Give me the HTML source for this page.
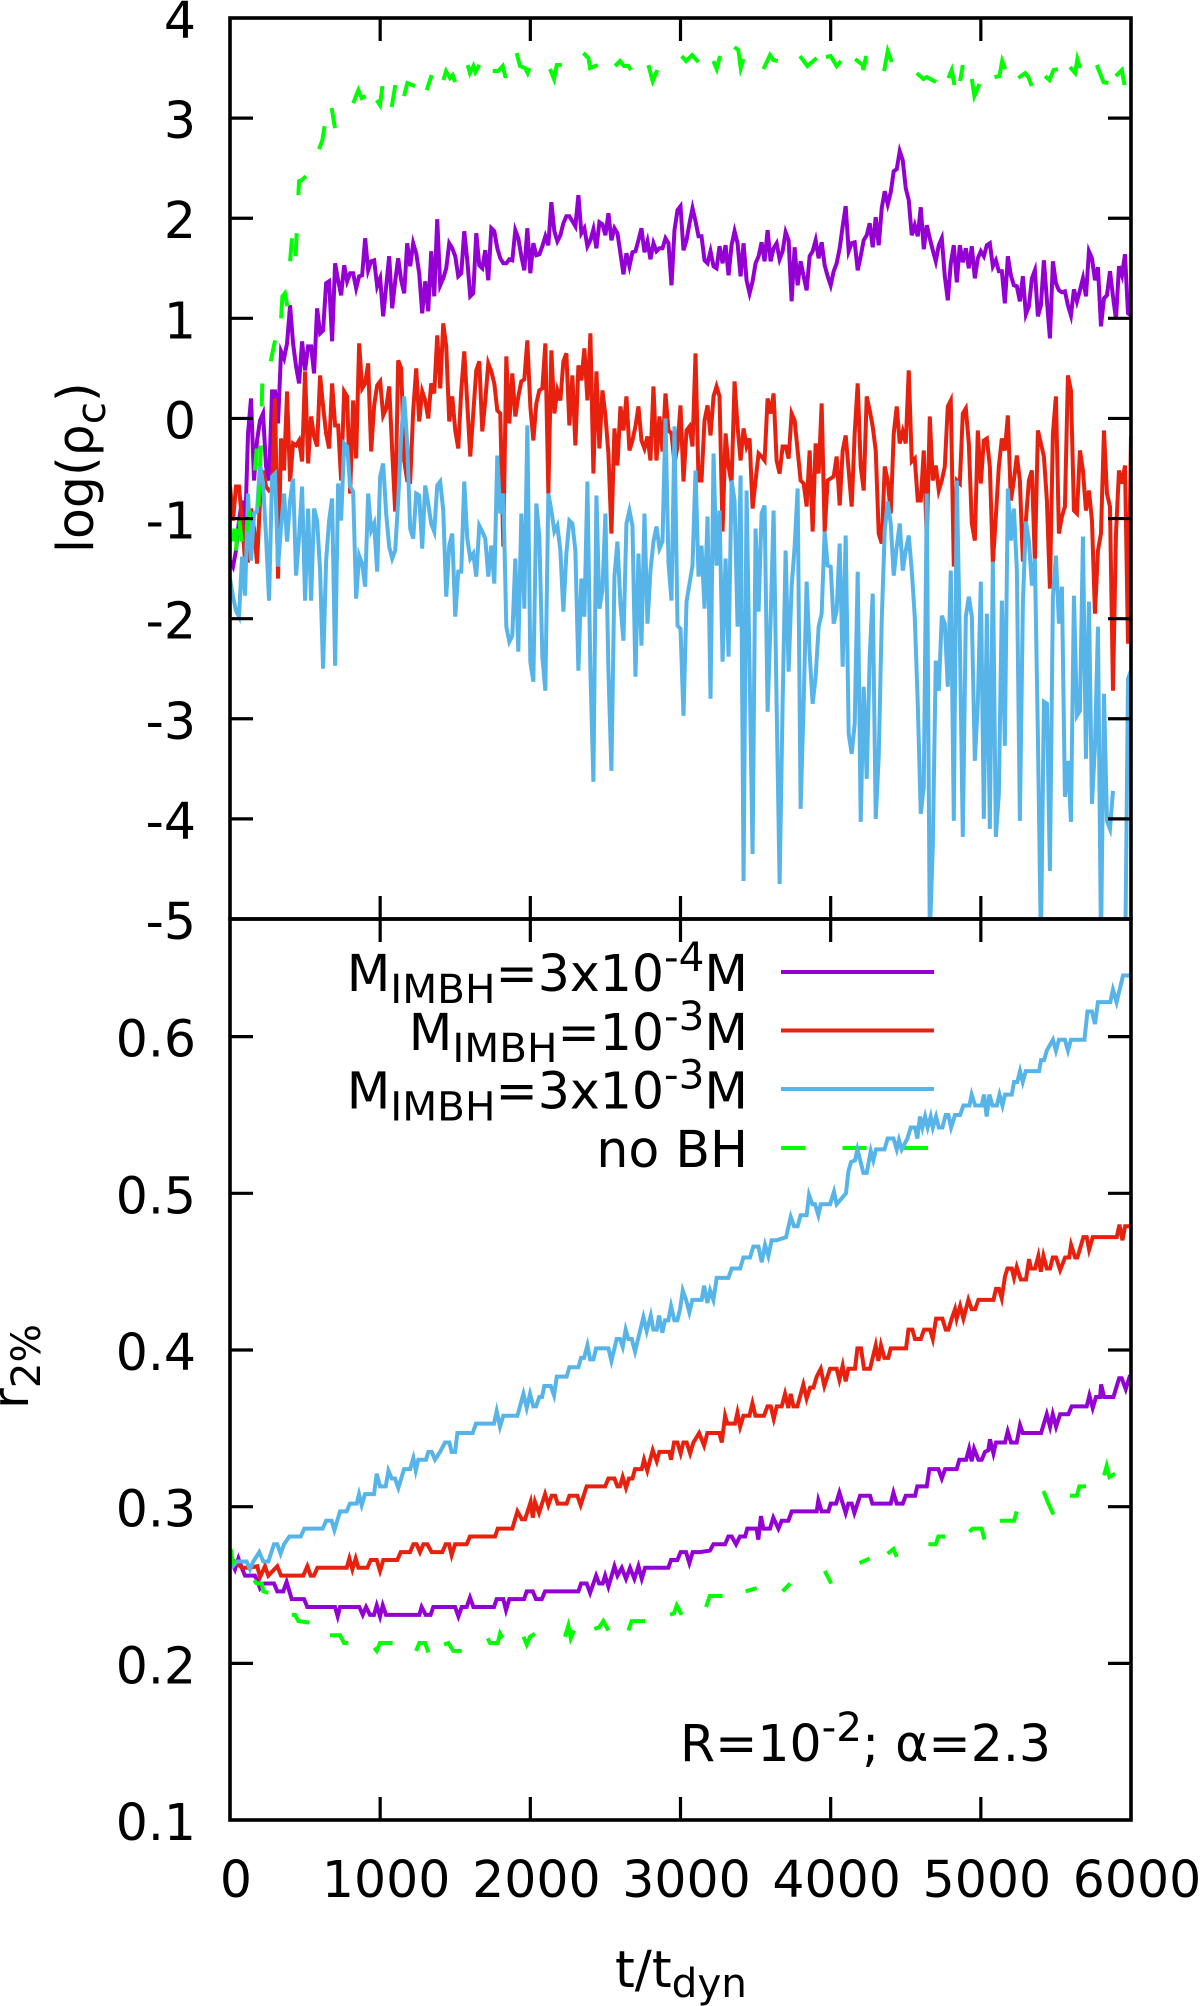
<!DOCTYPE html>
<html lang="en">
<head>
<meta charset="utf-8">
<title>Central density and 2% Lagrangian radius vs time</title>
<style>
html,body{margin:0;padding:0;background:#fff;}
svg{display:block;font-family:"DejaVu Sans","Liberation Sans",sans-serif;}
text{fill:#000;font-size:50.5px;}
.sm{font-size:40.5px;}
</style>
</head>
<body>
<svg id="chart" width="1200" height="2006" viewBox="0 0 1200 2006" xmlns="http://www.w3.org/2000/svg">
<defs>
<clipPath id="clip-top"><rect x="230" y="18" width="901" height="901"/></clipPath>
<clipPath id="clip-bottom"><rect x="230" y="919" width="901" height="901"/></clipPath>
</defs>
<rect x="0" y="0" width="1200" height="2006" fill="#fff"/>
<g id="legend-lines">
<line x1="781" x2="934" y1="972" y2="972" stroke="#9400d3" stroke-width="4"/>
<line x1="781" x2="934" y1="1030.5" y2="1030.5" stroke="#e7210d" stroke-width="4"/>
<line x1="781" x2="934" y1="1089" y2="1089" stroke="#56b4e9" stroke-width="4"/>
<line x1="781" x2="934" y1="1148" y2="1148" stroke="#00ff00" stroke-width="4" stroke-dasharray="24 37.5"/>
<text x="748" y="991" text-anchor="end">M<tspan class="sm" dy="12">IMBH</tspan><tspan dy="-12">=3x10</tspan><tspan class="sm" dy="-20">-4</tspan><tspan dy="20">M</tspan></text>
<text x="748" y="1050" text-anchor="end">M<tspan class="sm" dy="12">IMBH</tspan><tspan dy="-12">=10</tspan><tspan class="sm" dy="-20">-3</tspan><tspan dy="20">M</tspan></text>
<text x="748" y="1108.5" text-anchor="end">M<tspan class="sm" dy="12">IMBH</tspan><tspan dy="-12">=3x10</tspan><tspan class="sm" dy="-20">-3</tspan><tspan dy="20">M</tspan></text>
<text x="748" y="1167" text-anchor="end">no BH</text>
</g>
<g id="series-top" clip-path="url(#clip-top)"></g>
<g id="series-bottom" clip-path="url(#clip-bottom)"></g>
<g id="axes"></g>
<text transform="translate(93,553) rotate(-90)">log(ρ<tspan class="sm" dy="12">c</tspan><tspan dy="-12">)</tspan></text>
<text transform="translate(28,1409) rotate(-90)">r<tspan class="sm" dy="12">2%</tspan></text>
<text x="615" y="1987">t/t<tspan class="sm" dy="10">dyn</tspan></text>
<text x="680" y="1761">R=10<tspan class="sm" dy="-20">-2</tspan><tspan dy="20">; α=2.3</tspan></text>
</svg>
<script>
const sampleStep = 20;
const xTickValues = [0,1000,2000,3000,4000,5000,6000];
const yTickValuesTop = [4,3,2,1,0,-1,-2,-3,-4,-5];
const yTickValuesBottom = [0.6,0.5,0.4,0.3,0.2,0.1];
const yTickLabelsBottom = ["0.6","0.5","0.4","0.3","0.2","0.1"];

const densityImbh3em4 = [-1.42,-1.48,-1.32,-1.02,-.82,-1.15,-.15,.2,-.62,-.22,-.02,.05,-.48,-.62,.27,.27,-.05,.67,.6,.75,1.13,.75,.52,.35,.77,.48,.72,.72,.45,1.1,.85,.88,1.35,1.37,.77,1.55,1.38,1.23,1.53,1.37,1.45,1.45,1.3,1.42,1.43,1.8,1.48,1.57,1.58,1.32,1.4,1.02,1.32,1.62,1.1,1.37,1.6,1.38,1.25,1.75,1.52,1.75,1.65,1.45,1.05,1.37,1.07,1.67,1.22,1.99,1.33,1.4,1.5,1.75,1.7,1.62,1.42,1.45,1.87,1.58,1.22,1.25,1.85,1.53,1.5,1.68,1.38,1.9,1.87,1.7,1.6,1.55,1.55,1.59,1.58,1.88,1.8,1.62,1.48,1.9,1.45,1.75,1.63,1.64,1.72,1.82,1.73,2.16,1.87,1.77,1.83,1.95,2.02,2.02,1.97,1.92,2.23,1.85,1.9,1.72,1.78,1.89,1.7,1.96,1.94,1.83,2.05,1.78,1.9,1.85,1.65,1.44,1.65,1.52,1.66,1.67,1.78,1.9,1.66,1.77,1.59,1.75,1.67,1.7,1.7,1.8,1.75,1.33,1.88,2.08,2.12,1.68,1.78,1.95,2.1,1.97,1.82,
1.82,1.58,1.55,1.67,1.52,1.5,1.72,1.55,1.73,1.43,1.73,1.87,1.75,1.42,1.75,1.38,1.25,1.37,1.55,1.62,1.76,1.57,1.88,1.57,1.7,1.75,1.59,1.67,1.86,1.78,1.17,1.71,1.33,1.57,1.42,1.28,1.62,1.67,1.78,1.6,1.76,1.53,1.42,1.33,1.47,1.55,1.7,1.92,2.12,1.67,1.75,1.76,1.48,1.62,1.78,1.83,1.95,1.71,2.01,1.73,2.1,2.27,2.14,2.26,2.47,2.49,2.67,2.58,2.3,2.18,1.83,1.93,1.82,2.11,1.69,1.93,1.8,1.68,1.57,1.73,1.8,1.42,1.18,1.55,1.73,1.36,1.73,1.56,1.7,1.5,1.72,1.4,1.6,1.67,1.62,1.73,1.75,1.52,1.58,1.47,1.47,1.15,1.62,1.43,1.33,1.32,1.17,1.42,1.04,1.12,1.4,1.48,1.02,1.13,1.58,1.18,.8,1.57,1.35,1.28,1.26,1.27,1.13,1.03,1.29,1.17,1.28,1.4,1.22,1.67,1.6,1.38,1.51,.92,1.2,1.23,1.47,1.22,.99,1.52,1.43,1.64,1.05,1.03];

const densityImbh1em3 = [-.67,-1.02,-.68,-.68,-1.02,-1.42,-1.42,-.9,-1.1,-1.45,-.82,-.52,-.68,-.72,-.7,.2,-1.6,-.2,-.52,.27,-.63,-.25,-.27,-.22,-.43,.47,-.45,.02,-.18,-.28,.43,.12,-.15,-.3,.35,-.07,-.07,-.62,.27,.22,-.75,.18,-.4,.75,.3,.35,.55,-.33,.13,.33,.37,.03,.1,.32,-.32,-.93,.58,.5,-.42,-.62,-.63,.08,.5,-.03,.27,.18,0,.35,.25,.83,.3,.95,.72,-.03,.22,-.12,-.3,.28,.67,.15,-.38,.05,.48,.57,-.13,.18,.55,.47,.35,.08,.05,-1.28,.62,-.05,.45,.02,.22,.37,.39,.78,.12,-.22,.15,.28,.3,.75,-.75,.68,.05,.28,.18,.57,.65,-.07,.43,-.27,.53,.38,.7,.18,.85,-.55,.47,-.3,.28,.03,-.35,-1.15,-.1,-.47,.12,-.12,.22,-.32,-.22,-.08,.12,-.22,-.3,-.18,-.42,.32,-.42,.02,-.33,.25,-.12,-.15,-.45,-.28,.13,-.63,-.12,-.08,-.28,.65,-.62,
-.62,-.02,.13,-.17,.22,.32,.22,-1.13,-.15,-.48,-.65,.37,-.08,-.42,-.1,-.28,-.2,-.9,-.62,-.35,-.38,-.42,.2,.05,.25,-.42,-.55,-.28,-.28,-.4,.05,-.02,-.32,-.62,-.65,-.88,-.32,-1.13,-.25,-.55,.15,-1.13,-.62,-.6,-.58,-.38,-.87,-.32,-.17,-.52,-.88,-.15,.35,-.48,-.72,.22,.08,-.08,-.32,-1.15,-1.25,-.48,-.62,-.95,-.15,.12,-.25,-.13,-.25,.48,-.43,-.4,-.82,-.82,-.32,-1.22,.02,-.62,-.47,-.72,-.62,-.48,.12,.18,-1.48,-.62,-.65,.05,.1,-.25,-1.05,-1.22,-.12,-.65,-.22,-.2,-.48,-1.45,-.98,-.48,-.2,-.32,.03,-.82,-.62,-.37,-.62,-1.43,-1.02,-.62,-.52,-1.42,-.12,-.25,-.38,-.82,-1.7,-.15,.22,-1.15,-.98,-.88,.43,.28,-.92,-.95,-.32,-.52,-.92,-.72,-1.02,-1.95,-1.32,-1.15,-.12,-.75,-.88,-2.72,-1.15,-.52,-.65,-.47,-2.25,-.18];

const densityImbh3em3 = [-1.6,-1.78,-1.92,-1.98,-1.38,-1.77,-.75,-1.42,-.95,-.93,-.45,-.65,-1.18,-1.82,-.58,-.55,-1.48,-1.08,-.75,-1.23,-.82,-.6,-1.57,-1.18,-.68,-1.82,-.9,-1.82,-.9,-1.02,-1.52,-2.5,-1.42,-1.02,-.8,-2.47,-.65,-1.02,-.25,-.28,-.68,-.73,-1.8,-1.37,-1.45,-1.68,-.75,-1.12,-1.05,-1.53,-.58,-.45,-.95,-1.28,-1.4,-1.32,-.82,-.18,.22,-.25,-1.1,-1.2,-.75,-.77,-1.3,-.67,-.85,-1.05,-1.13,-.67,-.63,-.92,-1.78,-1.27,-1.15,-1.98,-1.53,-1.53,-.63,-1.2,-1.4,-1.35,-1.58,-1.07,-1.13,-1.2,-1.58,-1.27,-1.65,-.37,-.95,-.75,-2.08,-2.23,-2.17,-1.4,-2.33,-.95,-1.9,-.07,-2.43,-2.63,-.85,-1.18,-2.38,-2.72,-.75,-.92,-1.13,-1.07,-1.32,-1.93,-1.35,-1.02,-1.05,-1.32,-2.52,-1.6,-1.98,-.63,-2.52,-3.63,-.77,-1.9,-1.72,-.95,-2.52,-3.52,-1.58,-1.23,-1.85,-2.22,-1.05,-.92,-1.07,-2.58,-1.35,-2.27,-.95,-2.05,-1.52,-1.23,-1.08,-1.3,-1.23,0,-1.45,-1.82,-.08,-2.07,-2.1,-2.97,-1.83,-1.65,-1.47,-.52,-1.58,
-1.27,-1.9,-.98,-2.8,-.35,-1.47,-.92,-2.43,-1.4,-2.38,-.62,-.82,-2.08,-.57,-4.62,-.72,-2.52,-4.35,-1.1,-1.93,-.95,-.87,-2.93,-2.02,-.92,-2.85,-4.65,-2.85,-1.32,-2.53,-1.68,-1.28,-.7,-3.9,-2.85,-1.63,-2.35,-2.85,-2.58,-2.08,-1.95,-1.13,-1.47,-1.48,-2.05,-1.92,-1.25,-2.48,-1.17,-3.15,-3.35,-3.05,-1.53,-4.03,-2.68,-3.6,-2.38,-1.75,-4,-3.38,-2.02,-1.12,-.83,-1.05,-1.57,-1.28,-1.05,-1.52,-1.32,-1.17,-1.52,-1.98,-2.85,-3.95,-3.68,-.75,-5.18,-4.28,-2.42,-2.72,-1.97,-2.05,-2.68,-1.52,-4.02,-.62,-2.18,-4.18,-1.98,-1.78,-1.98,-3.42,-2.85,-1.63,-4,-1.95,-4.1,-1.43,-4.18,-3.75,-1.82,-3.27,-.7,-1.22,-.9,-1.52,-4.02,-1.85,-1.03,-1.22,-1.67,-1.4,-3.18,-5.25,-2.83,-2.85,-4.52,-1.78,-1.37,-2.05,-1.68,-3.78,-3.42,-4.03,-1.77,-2.97,-2.92,-1.18,-3.4,-1.83,-3.85,-3.28,-2.08,-5.25,-2.75,-4.02,-4.1,-3.72,null,null,null,-5.6,-2.6,-2.52];

const densityNoBhTimes = [22,29,null,40,49,null,62,78,null,111,133,null,166,178,null,189,195,null,200,206,null,211,215,null,271,300,null,340,349,366,382,null,400,413,null,437,444,null,455,460,477,506,null,593,615,630,null,677,699,null,821,855,877,904,null,977,999,1015,null,1077,1101,null,1159,1181,1232,null,1310,1343,null,1421,1439,1465,1483,1499,null,1583,1598,1621,1634,1661,null,1749,1787,1816,1836,null,1909,1931,1965,1982,1994,null,2131,2158,2176,2209,null,2353,2387,2398,2449,null,2564,2597,2624,2653,2671,null,2786,2815,2846,null,3008,3037,3077,3119,null,3219,3241,3263,null,3359,3385,3401,3419,null,3552,3596,3619,3648,null,3796,3845,3907,null,3969,4000,4040,4069,null,4163,4214,4218,4236,null,4356,4380,4407,null,4573,4618,4640,4702,null,4784,4806,4824,null,4862,4878,4891,null,4940,4957,4991,null,5091,5124,5142,5162,null,5250,5295,5317,5339,null,5428,5457,5484,5513,null,5594,5628,5643,5661,null,5772,5817,5850,null,5899,5939,5957];
const densityNoBhValues = [-1.23,-1.1,null,-1.32,-1.1,null,-1.02,-1.23,null,-1.13,-.92,null,-.52,-.3,null,-.88,-.67,null,-.48,-.27,null,.12,.35,null,.57,.78,null,1,1.22,1.25,1.12,null,1.57,1.8,null,1.62,1.85,null,2.23,2.37,2.38,2.42,null,2.69,2.78,2.92,null,3.1,2.9,null,3.15,3.28,3.2,3.22,null,3.18,3.13,3.32,null,3.11,3.33,null,3.22,3.35,3.32,null,3.28,3.43,null,3.38,3.47,3.4,3.43,3.36,null,3.53,3.45,3.52,3.46,3.53,null,3.47,3.47,3.52,3.4,null,3.65,3.52,3.5,3.45,3.5,null,3.49,3.39,3.53,3.53,null,3.65,3.6,3.5,3.53,null,3.52,3.57,3.52,3.52,3.48,null,3.53,3.37,3.48,null,3.62,3.57,3.63,3.56,null,3.57,3.49,3.62,null,3.71,3.68,3.5,3.59,null,3.49,3.63,3.58,3.57,null,3.62,3.52,3.6,null,3.61,3.62,3.52,3.57,null,3.59,3.53,3.48,3.62,null,3.47,3.67,3.56,null,3.45,3.39,3.41,3.36,null,3.4,3.48,3.33,null,3.37,3.51,3.51,null,3.39,3.22,3.34,null,3.41,3.42,3.57,3.49,null,3.4,3.45,3.41,3.32,null,3.42,3.38,3.48,3.49,null,3.51,3.45,3.59,3.5,null,3.53,3.36,3.35,null,3.42,3.48,3.33];

const radiusImbh3em4Times = [4,33,56,78,100,166,189,200,222,293,315,355,377,411,493,515,699,717,733,861,884,906,932,959,977,999,1017,1039,1261,1276,1303,1336,1354,1499,1521,1543,1576,1598,1621,1758,1776,1820,1838,1860,1958,1976,2016,2038,2076,2098,2320,2338,2375,2398,2438,2458,2482,2498,2520,2560,2580,2609,2637,2664,2693,2720,2742,2764,2919,2937,2979,3001,3037,3059,3081,3130,3196,3219,3297,3319,3341,3370,3396,3430,3445,3507,3518,3536,3552,3596,3618,3652,3674,3718,3741,3907,3918,3940,3985,4000,4036,4058,4100,4118,4140,4158,4196,4262,4278,4400,4418,4440,4480,4500,4562,4577,4640,4657,4717,4740,4762,4839,4857,4902,4922,4939,4955,4984,5006,5028,5050,5061,5084,5101,5161,5179,5201,5239,5261,5279,5401,5439,5461,5479,5501,5528,5583,5605,5705,5723,5745,5767,5794,5801,5821,5883,5921,5938,5965,5994];
const radiusImbh3em4Values = [.266,.26,.267,.261,.256,.256,.251,.248,.251,.251,.246,.246,.252,.241,.241,.236,.236,.23,.236,.236,.231,.236,.231,.231,.237,.23,.237,.231,.231,.236,.231,.231,.236,.236,.23,.236,.236,.242,.236,.236,.241,.241,.234,.241,.241,.246,.246,.241,.241,.246,.246,.251,.251,.245,.256,.251,.251,.256,.249,.262,.256,.261,.254,.261,.254,.262,.254,.261,.261,.266,.266,.271,.271,.264,.271,.271,.272,.276,.276,.281,.281,.276,.281,.281,.286,.286,.279,.294,.286,.286,.293,.286,.291,.291,.297,.297,.304,.297,.297,.302,.302,.309,.296,.302,.302,.296,.307,.307,.302,.302,.309,.302,.302,.307,.307,.313,.313,.324,.324,.318,.324,.324,.33,.33,.337,.329,.337,.33,.33,.335,.336,.343,.334,.341,.341,.348,.341,.341,.352,.347,.347,.359,.351,.359,.351,.359,.359,.364,.364,.371,.363,.37,.37,.378,.37,.37,.382,.382,.375,.384];

const radiusImbh1em3Times = [0,33,78,133,182,200,233,255,315,340,488,515,537,559,582,777,795,815,837,855,915,937,977,999,1021,1114,1137,1199,1221,1243,1265,1288,1314,1343,1414,1436,1459,1476,1499,1576,1598,1765,1783,1880,1914,1943,1965,2002,2016,2031,2058,2098,2120,2142,2165,2182,2242,2260,2313,2335,2375,2498,2520,2560,2580,2597,2615,2637,2657,2680,2697,2742,2757,2779,2815,2842,2859,2926,2937,2957,2979,3001,3019,3041,3064,3086,3124,3157,3179,3259,3275,3297,3312,3363,3379,3397,3419,3459,3479,3499,3556,3579,3601,3621,3641,3674,3696,3718,3734,3752,3778,3818,3840,3863,3885,3907,3934,3958,3996,4040,4058,4080,4100,4118,4162,4178,4202,4222,4262,4300,4318,4335,4358,4384,4400,4502,4518,4544,4562,4600,4622,4662,4680,4702,4744,4766,4784,4806,4828,4839,4862,4884,4917,4939,4962,4984,5084,5101,5121,5139,5161,5177,5206,5221,5239,5266,5301,5321,5334,5361,5383,5399,5417,5439,5461,5479,5501,5528,5561,5588,5601,5628,5643,5683,5705,5721,5745,5905,5923,5943,5961,5994];
const radiusImbh1em3Values = [.267,.265,.261,.261,.262,.255,.262,.256,.262,.256,.256,.262,.256,.256,.261,.261,.267,.26,.267,.261,.261,.266,.266,.259,.266,.266,.271,.271,.276,.276,.271,.276,.276,.271,.271,.276,.276,.269,.276,.276,.281,.281,.286,.286,.297,.292,.292,.303,.293,.303,.296,.308,.301,.307,.307,.302,.302,.307,.307,.301,.313,.313,.318,.318,.313,.313,.319,.312,.318,.318,.324,.324,.33,.323,.336,.329,.335,.335,.33,.341,.341,.334,.341,.341,.334,.341,.347,.339,.347,.347,.341,.358,.353,.353,.36,.351,.358,.358,.366,.358,.358,.364,.364,.356,.364,.364,.372,.363,.372,.364,.364,.378,.369,.376,.376,.383,.388,.377,.388,.388,.381,.39,.38,.388,.388,.401,.401,.388,.388,.403,.393,.403,.395,.395,.401,.401,.413,.413,.407,.407,.413,.413,.407,.42,.42,.413,.413,.42,.426,.42,.428,.42,.432,.426,.426,.432,.432,.439,.439,.433,.447,.452,.452,.446,.453,.445,.445,.458,.452,.452,.46,.45,.46,.452,.452,.459,.459,.451,.459,.459,.467,.459,.459,.472,.472,.464,.472,.472,.48,.47,.479,.479];

const radiusImbh3em3Times = [11,44,111,133,155,195,222,255,293,315,337,360,395,471,495,617,640,677,695,733,777,799,844,859,877,899,959,977,999,1037,1055,1077,1099,1121,1159,1199,1221,1237,1254,1305,1321,1343,1365,1399,1432,1461,1476,1499,1514,1616,1638,1758,1776,1798,1820,1914,1954,1976,1998,2020,2038,2060,2078,2093,2136,2158,2176,2242,2260,2320,2338,2358,2380,2398,2420,2438,2520,2540,2575,2597,2615,2635,2653,2675,2697,2753,2775,2802,2819,2842,2857,2879,2897,2919,2937,2959,2979,2997,3015,3037,3059,3079,3141,3157,3179,3197,3219,3241,3319,3341,3397,3419,3463,3485,3519,3541,3563,3585,3607,3641,3703,3734,3756,3780,3800,3840,3856,3878,3896,3918,3934,3996,4022,4040,4102,4118,4136,4162,4178,4218,4240,4267,4284,4302,4358,4380,4418,4440,4455,4473,4511,4533,4562,4577,4595,4611,4629,4646,4666,4680,4702,4720,4744,4766,4784,4802,4828,4862,4884,4924,4939,4962,5006,5021,5039,5057,5077,5106,5124,5144,5161,5206,5221,5243,5261,5279,5299,5388,5401,5421,5439,5480,5500,5520,5560,5580,5600,5640,5665,5690,5710,5740,5760,5780,5862,5880,5904,5947,6000];
const radiusImbh3em3Values = [.261,.265,.265,.26,.265,.271,.265,.265,.276,.276,.27,.276,.281,.281,.286,.286,.291,.291,.285,.297,.297,.302,.302,.308,.301,.308,.308,.321,.313,.313,.323,.318,.318,.312,.324,.324,.331,.323,.33,.33,.335,.335,.33,.335,.341,.341,.335,.335,.347,.347,.353,.353,.361,.351,.358,.358,.372,.363,.372,.364,.364,.37,.37,.377,.377,.371,.383,.383,.389,.389,.395,.395,.403,.394,.394,.401,.401,.393,.407,.407,.402,.413,.407,.407,.399,.421,.412,.422,.413,.413,.422,.411,.419,.419,.428,.419,.419,.426,.438,.432,.424,.432,.432,.441,.43,.438,.432,.446,.446,.452,.452,.459,.459,.466,.466,.456,.467,.46,.47,.47,.472,.485,.479,.479,.486,.486,.499,.493,.493,.486,.493,.493,.501,.493,.5,.514,.52,.521,.528,.513,.513,.527,.521,.528,.528,.535,.535,.528,.534,.528,.535,.542,.542,.535,.549,.542,.549,.542,.549,.542,.549,.542,.542,.55,.55,.542,.55,.55,.556,.556,.563,.556,.556,.563,.549,.563,.556,.556,.563,.556,.563,.563,.571,.571,.578,.571,.578,.578,.585,.585,.591,.598,.591,.598,.598,.591,.598,.598,.598,.598,.616,.616,.608,.622,.622,.63,.622,.639,.639];

const radiusNoBhTimes = [4,22,null,160,178,211,222,255,null,411,433,455,528,null,666,733,759,788,null,961,977,999,1083,null,1239,1261,1299,1321,null,1425,1454,1487,1543,null,1716,1732,1783,1798,1814,null,1954,1976,1998,2031,null,2231,2253,2269,2291,null,2426,2458,2486,2520,null,2653,2675,2764,null,2930,2957,2975,3008,null,3170,3195,3280,null,3434,3508,null,3680,3731,null,3961,4004,null,4192,4260,null,4380,4418,4440,null,4651,4700,4717,4762,null,4924,4946,5006,5024,null,5128,5221,5239,null,5417,5450,5483,null,5594,5639,5656,5701,null,5821,5838,5856,5894];
const radiusNoBhValues = [.273,.263,null,.253,.251,.251,.246,.245,null,.231,.231,.227,.226,null,.218,.218,.213,.213,null,.21,.208,.213,.213,null,.208,.213,.213,.207,null,.212,.213,.208,.208,null,.216,.213,.213,.219,.216,null,.217,.212,.217,.219,null,.217,.224,.216,.221,null,.222,.223,.227,.221,null,.221,.227,.227,null,.231,.232,.237,.231,null,.236,.243,.243,null,.246,.248,null,.246,.251,null,.259,.251,null,.264,.267,null,.27,.273,.268,null,.276,.276,.281,.281,null,.284,.286,.286,.279,null,.291,.291,.297,null,.31,.302,.295,null,.307,.307,.313,.313,null,.32,.326,.319,.321];

const SVG_NS = 'http://www.w3.org/2000/svg';
const X0 = 230, X1 = 1131, YT0 = 18, YT1 = 919, YB0 = 919, YB1 = 1820;
const COLORS = {purple:'#9400d3', red:'#e7210d', blue:'#56b4e9', green:'#00ff00'};

function xScale(t){ return X0 + (t/6000)*(X1-X0); }
function yTop(v){ return YT0 + ((4-v)/9)*(YT1-YT0); }
function yBottom(v){ return 1506.7 - (v-0.3)*1567; }

function linePath(times, values, yFn){
  let d = '', pen = false;
  for(let i=0;i<values.length;i++){
    if(values[i]===null || times[i]===null){ pen = false; continue; }
    d += (pen?'L':'M') + xScale(times[i]).toFixed(2) + ' ' + yFn(values[i]).toFixed(2);
    pen = true;
  }
  return d;
}
function uniformTimes(values){ return values.map(function(_,i){ return i*sampleStep; }); }
function addSeries(group, name, times, values, yFn, color){
  const p = document.createElementNS(SVG_NS,'path');
  
  
  p.setAttribute('d', linePath(times, values, yFn));
  p.setAttribute('fill','none');
  p.setAttribute('stroke',color);
  p.setAttribute('stroke-width','4');
  p.setAttribute('stroke-linejoin','miter');
  p.setAttribute('stroke-miterlimit','5');
  group.appendChild(p);
}
const topGroup = document.getElementById('series-top');
addSeries(topGroup,'density-line-3e-4',uniformTimes(densityImbh3em4),densityImbh3em4,yTop,COLORS.purple);
addSeries(topGroup,'density-line-1e-3',uniformTimes(densityImbh1em3),densityImbh1em3,yTop,COLORS.red);
addSeries(topGroup,'density-line-3e-3',uniformTimes(densityImbh3em3),densityImbh3em3,yTop,COLORS.blue);
addSeries(topGroup,'density-line-no-bh',densityNoBhTimes,densityNoBhValues,yTop,COLORS.green);
const bottomGroup = document.getElementById('series-bottom');
addSeries(bottomGroup,'radius-line-3e-4',radiusImbh3em4Times,radiusImbh3em4Values,yBottom,COLORS.purple);
addSeries(bottomGroup,'radius-line-1e-3',radiusImbh1em3Times,radiusImbh1em3Values,yBottom,COLORS.red);
addSeries(bottomGroup,'radius-line-3e-3',radiusImbh3em3Times,radiusImbh3em3Values,yBottom,COLORS.blue);
addSeries(bottomGroup,'radius-line-no-bh',radiusNoBhTimes,radiusNoBhValues,yBottom,COLORS.green);

const axes = document.getElementById('axes');
function tick(name,x1,y1,x2,y2){
  const l = document.createElementNS(SVG_NS,'line');
  
  
  l.setAttribute('x1',x1); l.setAttribute('y1',y1); l.setAttribute('x2',x2); l.setAttribute('y2',y2);
  l.setAttribute('stroke','#000'); l.setAttribute('stroke-width','3.2');
  axes.appendChild(l);
}
function label(name,x,y,anchor,txt){
  const t = document.createElementNS(SVG_NS,'text');
  
  
  t.setAttribute('x',x); t.setAttribute('y',y); t.setAttribute('text-anchor',anchor);
  t.textContent = txt;
  axes.appendChild(t);
}
const TL = 23;
xTickValues.forEach(function(v){
  const x = xScale(v);
  if(v>0 && v<6000){
    tick('x-tick-top',x,YT0,x,YT0+TL);
    tick('x-tick-middle-up',x,YT1-TL,x,YT1);
    tick('x-tick-middle-down',x,YB0,x,YB0+TL);
    tick('x-tick-bottom',x,YB1-TL,x,YB1);
  }
  label('x-tick-label',x+6,1897,'middle',String(v));
});
yTickValuesTop.forEach(function(v){
  const y = yTop(v);
  if(v<4 && v>-5){
    tick('y-tick-density-left',X0,y,X0+TL,y);
    tick('y-tick-density-right',X1-TL,y,X1,y);
  }
  label('y-tick-label-density',196,y+20,'end',String(v));
});
yTickValuesBottom.forEach(function(v,i){
  const y = yBottom(v);
  if(v>0.1){
    tick('y-tick-radius-left',X0,y,X0+TL,y);
    tick('y-tick-radius-right',X1-TL,y,X1,y);
  }
  label('y-tick-label-radius',196,y+20,'end',yTickLabelsBottom[i]);
});
[[YT0,YT1,'density-panel-frame'],[YB0,YB1,'radius-panel-frame']].forEach(function(f){
  const r = document.createElementNS(SVG_NS,'rect');
  
  
  r.setAttribute('x',X0); r.setAttribute('y',f[0]);
  r.setAttribute('width',X1-X0); r.setAttribute('height',f[1]-f[0]);
  r.setAttribute('fill','none'); r.setAttribute('stroke','#000'); r.setAttribute('stroke-width','3.6');
  axes.appendChild(r);
});
</script>
</body>
</html>
